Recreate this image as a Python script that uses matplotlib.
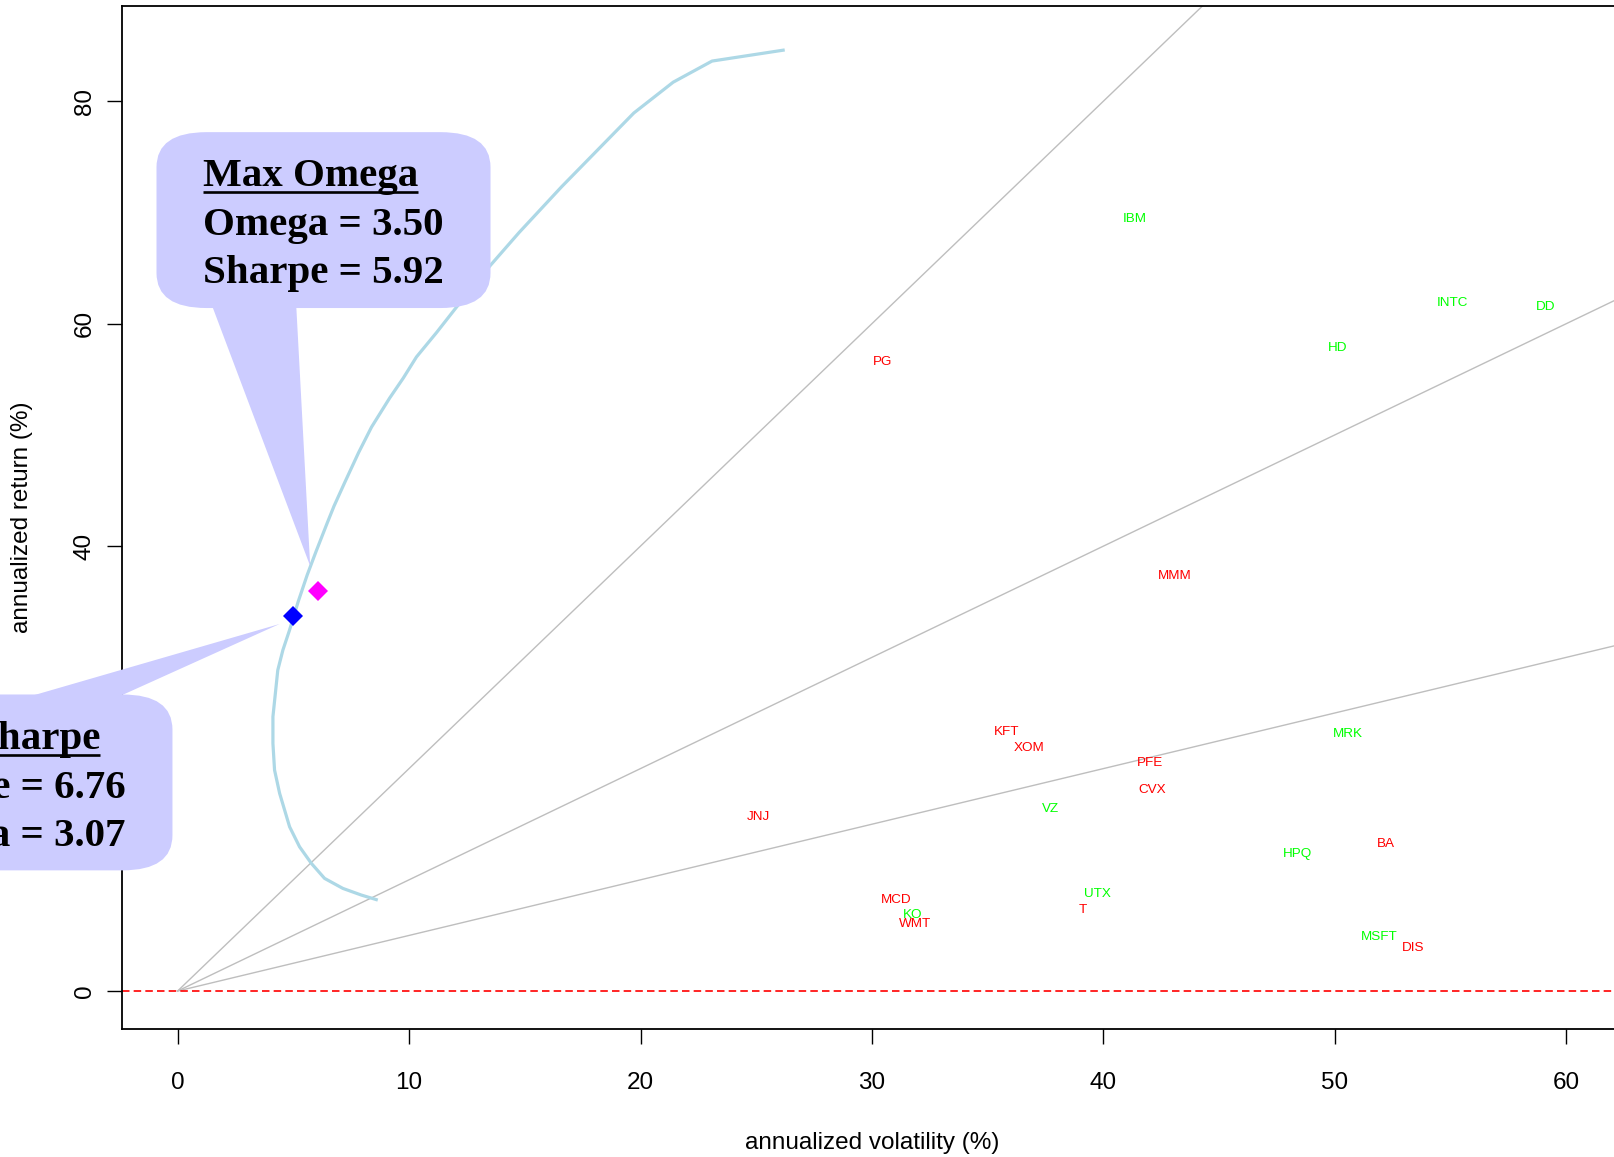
import numpy as np
import matplotlib.pyplot as plt
from matplotlib.patches import FancyBboxPatch, Polygon

# efficient frontier, annualized volatility / return (%)
frontier_vol = [8.65, 7.94, 7.14, 6.35, 5.78, 5.27, 4.84, 4.41, 4.19, 4.12, 4.12, 4.33,
                4.55, 4.83, 5.21, 5.60, 5.98, 6.47, 6.76, 7.24, 7.82, 8.38, 9.16, 9.75,
                10.32, 11.19, 12.05, 13.50, 14.76, 16.59, 19.71, 21.41, 23.09, 26.23]
frontier_ret = [8.18, 8.63, 9.23, 10.13, 11.48, 12.97, 14.77, 17.77, 19.87, 22.26, 24.66, 28.85,
                30.65, 32.40, 35.00, 37.40, 39.50, 42.10, 43.60, 45.80, 48.40, 50.70, 53.30, 55.10,
                57.00, 59.20, 61.48, 65.20, 68.20, 72.30, 78.93, 81.70, 83.60, 84.60]

# single stocks
tickers = ['IBM', 'INTC', 'DD', 'HD', 'PG', 'MMM', 'KFT', 'XOM', 'MRK', 'PFE', 'CVX',
           'VZ', 'JNJ', 'HPQ', 'BA', 'UTX', 'T', 'MCD', 'KO', 'WMT', 'MSFT', 'DIS']
stock_vol = [41.33, 55.07, 59.08, 50.11, 30.46, 43.09, 35.80, 36.77, 50.54, 42.03, 42.10,
             37.70, 25.10, 48.38, 52.21, 39.75, 39.12, 31.04, 31.74, 31.87, 51.91, 53.36]
stock_ret = [69.42, 61.87, 61.46, 57.83, 56.51, 37.27, 23.31, 21.87, 23.10, 20.47, 18.07,
             16.36, 15.61, 12.28, 13.18, 8.69, 7.25, 8.18, 6.83, 5.99, 4.83, 3.84]
stock_up = [1, 1, 1, 1, 0, 0, 0, 0, 1, 0, 0, 1, 0, 1, 0, 1, 0, 0, 1, 0, 1, 0]

# reference sharpe lines through the origin
line_slopes = [2.0, 1.0, 0.5]

# optimal portfolios
max_sharpe_pt = (4.98, 33.7)
max_omega_pt = (6.08, 36.0)
max_sharpe_lines = ['Max Sharpe', 'Sharpe = 6.76', 'Omega = 3.07']
max_omega_lines = ['Max Omega', 'Omega = 3.50', 'Sharpe = 5.92']

fig = plt.figure(figsize=(16.14, 11.57), dpi=100)
ax = fig.add_axes([122/1614, 128/1157, 1500/1614, 1023/1157])
ax.set_xlim(-2.4, 62.4)
ax.set_ylim(-3.41, 88.55)

sans = 'Liberation Sans'
serif = 'Liberation Serif'

for s in line_slopes:
    ax.plot([0, 100], [0, 100*s], color='#bebebe', lw=1.0, zorder=1)
ax.axhline(0, color='red', lw=1.2, ls=(0, (4.5, 2.5)), zorder=1)
ax.plot(frontier_vol, frontier_ret, color='#add8e6', lw=2.3, zorder=2,
        solid_capstyle='butt')

for name, v, r, up in zip(tickers, stock_vol, stock_ret, stock_up):
    ax.text(v, r, name, ha='center', va='center', fontsize=9.7, family=sans,
            color='#00ff00' if up else '#ff0000', zorder=3)

# callouts
fill = '#ccccff'
def callout(box, ptr, tx, base_ys, ul_y, lines):
    x0, y0, w, h = box
    p = FancyBboxPatch((x0, y0), w, h, boxstyle='round,pad=0,rounding_size=2.16',
                       mutation_aspect=1.46, fc=fill, ec='none', zorder=5, clip_on=False)
    ax.add_patch(p)
    ax.add_patch(Polygon(ptr, closed=True, fc=fill, ec='none', zorder=5, clip_on=False))
    texts = []
    for ln, yb in zip(lines, base_ys):
        t = ax.text(tx, yb, ln, ha='left', va='baseline', fontsize=29.5, family=serif,
                    weight='bold', color='black', zorder=6, clip_on=False)
        texts.append(t)
    return texts[0], ul_y

t1, u1 = callout((-0.91, 61.4, 14.43, 15.81),
                 [(1.51, 61.5), (5.13, 61.5), (5.73, 38.2)],
                 1.10, [72.36, 67.96, 63.61], 71.79, max_omega_lines)
t2, u2 = callout((-14.65, 10.85, 14.43, 15.81),
                 [(-6.2, 26.6), (-2.4, 26.6), (4.41, 33.0)],
                 -12.64, [21.75, 17.35, 13.0], 21.18, max_sharpe_lines)

ax.plot(*max_omega_pt, marker='D', ms=10.5, color='#ff00ff', mew=0, zorder=7)
ax.plot(*max_sharpe_pt, marker='D', ms=10.5, color='#0000ff', mew=0, zorder=7)

# underline the callout titles
fig.canvas.draw()
inv = ax.transData.inverted()
for t, uy in [(t1, u1), (t2, u2)]:
    bb = t.get_window_extent()
    xa = inv.transform((bb.x0, 0))[0]
    xb = inv.transform((bb.x1, 0))[0]
    ax.plot([xa, xb], [uy, uy], color='black', lw=1.9, zorder=6, clip_on=False,
            solid_capstyle='butt')

ax.set_xticks([0, 10, 20, 30, 40, 50, 60])
# the 20 label sits under the Max Sharpe callout
ax.set_yticks([0, 20, 40, 60, 80], ['0', '', '40', '60', '80'])
ax.tick_params(direction='out', length=10.8, width=1.0, labelsize=17.5)
ax.tick_params(axis='x', pad=20)
ax.tick_params(axis='y', pad=8, labelrotation=90)
for lab in ax.get_yticklabels():
    lab.set_va('center')
for lab in ax.get_xticklabels() + ax.get_yticklabels():
    lab.set_family(sans)
for sp in ax.spines.values():
    sp.set_linewidth(1.3)

ax.set_xlabel('annualized volatility (%)', fontsize=17.5, family=sans)
ax.set_ylabel('annualized return (%)', fontsize=17.5, family=sans)
ax.xaxis.set_label_coords(0.5, -0.1007)
ax.yaxis.set_label_coords(-0.0593, 0.5)

fig.savefig('out.png', dpi=100)
